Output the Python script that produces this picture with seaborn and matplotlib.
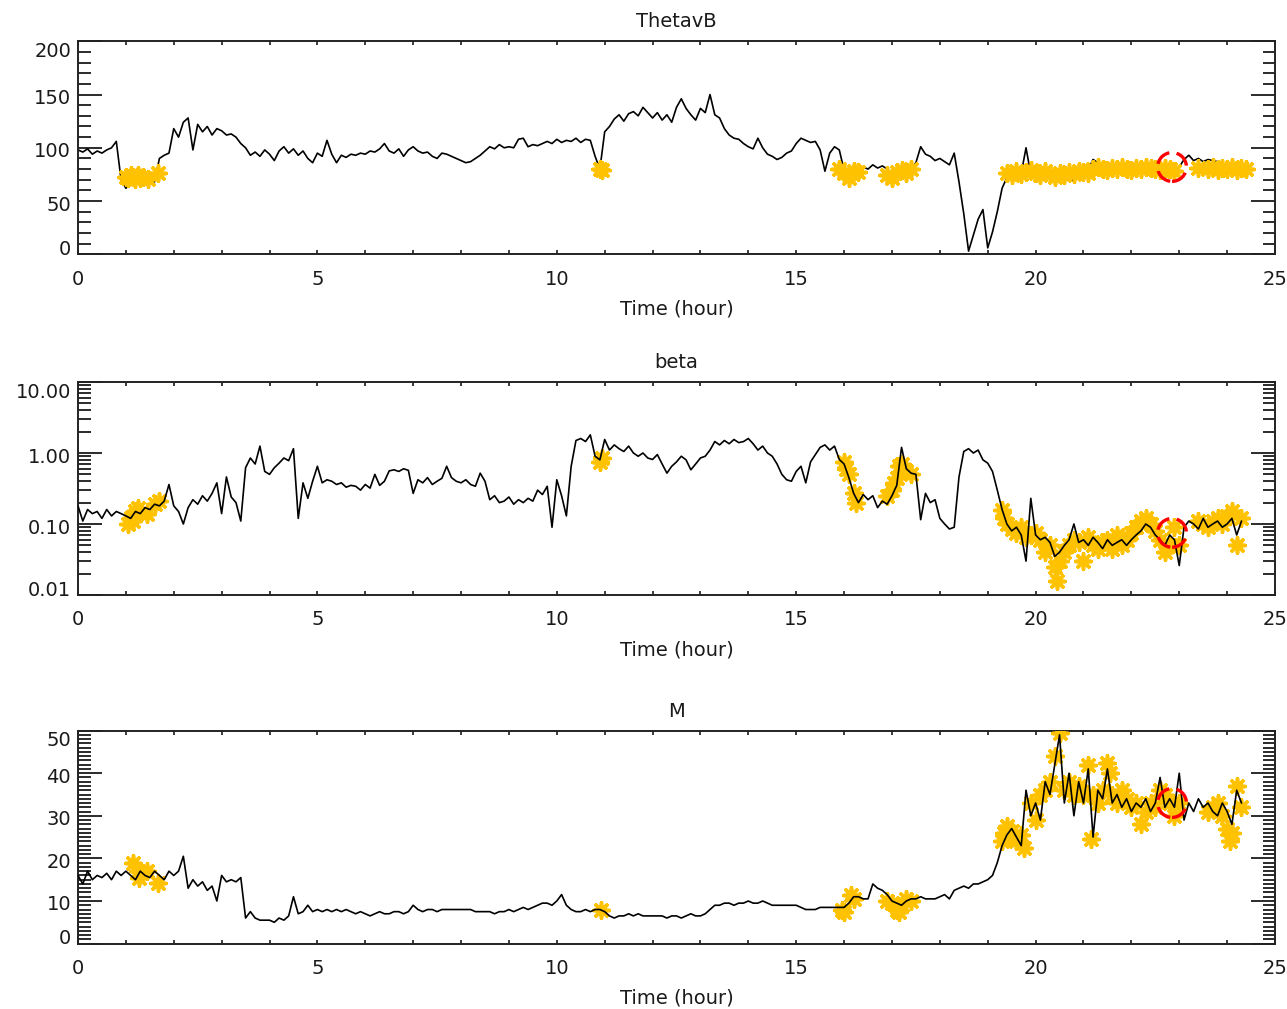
import numpy as np
import pandas as pd
import matplotlib
matplotlib.use("Agg")
import matplotlib.pyplot as plt
import matplotlib.ticker as mticker
import matplotlib.transforms as mtransforms
import seaborn as sns

# ---------------- data ----------------
hours = np.round(np.arange(245) * 0.1, 1)  # sampling grid 0.0 .. 24.4 h

theta = [
    98, 96, 99, 94, 97, 95, 98, 100, 106, 70,
    62, 66, 70, 68, 71, 67, 68, 90, 93, 95,
    118, 110, 124, 128, 98, 122, 115, 120, 112, 118,
    116, 112, 113, 110, 104, 100, 93, 96, 92, 98,
    94, 88, 97, 101, 95, 99, 93, 97, 90, 86,
    95, 92, 107, 94, 86, 93, 91, 94, 93, 95,
    94, 97, 96, 99, 104, 97, 95, 99, 92, 98,
    101, 97, 95, 96, 92, 90, 95, 94, 92, 90,
    88, 86, 87, 90, 93, 97, 101, 99, 103, 100,
    101, 100, 108, 109, 101, 103, 102, 104, 106, 104,
    108, 105, 107, 106, 109, 105, 108, 107, 92, 80,
    115, 120, 127, 131, 125, 132, 134, 130, 138, 133,
    128, 133, 126, 131, 124, 138, 146, 137, 131, 126,
    137, 133, 150, 131, 128, 118, 112, 109, 108, 104,
    101, 99, 109, 100, 94, 92, 89, 91, 95, 97,
    104, 109, 107, 105, 106, 98, 78, 95, 101, 98,
    79, 75, 67, 80, 82, 80, 84, 81, 83, 80,
    72, 70, 75, 78, 80, 86, 101, 94, 92, 88,
    90, 87, 84, 95, 68, 38, 3, 18, 33, 42,
    6, 21, 40, 62, 72, 74, 70, 76, 100, 75,
    72, 76, 70, 74, 67, 73, 71, 75, 68, 74,
    76, 80, 89, 86, 82, 80, 79, 81, 80, 82,
    80, 81, 79, 82, 80, 81, 80, 82, 79, 81,
    82, 89, 93, 88, 90, 87, 89, 88, 87, np.nan,
    np.nan, np.nan, np.nan, np.nan, np.nan,
]

beta = [
    0.18, 0.11, 0.16, 0.14, 0.15, 0.12, 0.16, 0.13, 0.15, 0.14,
    0.13, 0.12, 0.15, 0.14, 0.17, 0.16, 0.19, 0.18, 0.21, 0.36,
    0.18, 0.15, 0.10, 0.17, 0.22, 0.19, 0.25, 0.21, 0.27, 0.38,
    0.14, 0.46, 0.24, 0.20, 0.11, 0.62, 0.85, 0.70, 1.25, 0.55,
    0.50, 0.62, 0.72, 0.85, 0.78, 1.15, 0.12, 0.38, 0.23, 0.40,
    0.65, 0.38, 0.42, 0.40, 0.36, 0.38, 0.33, 0.35, 0.34, 0.30,
    0.36, 0.32, 0.50, 0.35, 0.40, 0.56, 0.58, 0.55, 0.60, 0.57,
    0.27, 0.42, 0.38, 0.45, 0.36, 0.40, 0.44, 0.65, 0.45, 0.40,
    0.38, 0.42, 0.36, 0.34, 0.52, 0.40, 0.22, 0.25, 0.20, 0.21,
    0.24, 0.19, 0.22, 0.20, 0.23, 0.21, 0.30, 0.26, 0.34, 0.09,
    0.42, 0.25, 0.13, 0.65, 1.50, 1.60, 1.45, 1.80, 0.90, 0.80,
    1.55, 1.10, 1.30, 1.15, 1.05, 1.25, 1.00, 0.90, 1.00, 0.85,
    0.81, 0.95, 0.70, 0.52, 0.65, 0.75, 0.90, 0.80, 0.58, 0.70,
    0.85, 0.90, 1.10, 1.45, 1.30, 1.50, 1.35, 1.55, 1.40, 1.45,
    1.60, 1.35, 1.10, 1.25, 1.00, 0.90, 0.70, 0.50, 0.42, 0.40,
    0.55, 0.65, 0.38, 0.75, 0.95, 1.20, 1.30, 1.10, 1.25, 0.81,
    0.70, 0.45, 0.27, 0.20, 0.26, 0.22, 0.25, 0.17, 0.21, 0.19,
    0.25, 0.35, 1.20, 0.60, 0.52, 0.50, 0.115, 0.27, 0.20, 0.22,
    0.12, 0.10, 0.085, 0.09, 0.46, 1.05, 1.15, 1.00, 1.10, 0.80,
    0.72, 0.55, 0.30, 0.16, 0.10, 0.08, 0.09, 0.07, 0.03, 0.23,
    0.07, 0.06, 0.065, 0.055, 0.035, 0.04, 0.05, 0.06, 0.10, 0.055,
    0.06, 0.05, 0.065, 0.055, 0.045, 0.06, 0.05, 0.055, 0.06, 0.05,
    0.06, 0.07, 0.08, 0.10, 0.09, 0.07, 0.06, 0.05, 0.07, 0.06,
    0.026, 0.09, 0.11, 0.10, 0.085, 0.12, 0.09, 0.10, 0.11, 0.09,
    0.10, 0.12, 0.07, 0.11, np.nan,
]

mach = [
    16, 14, 17, 15, 16, 15.5, 16.5, 15, 17, 16,
    17, 16, 15, 17, 16, 15.5, 17, 16, 15, 17,
    16, 17, 20.5, 13, 15, 13.5, 14.5, 12.5, 13.5, 10,
    16, 14.5, 15, 14.5, 15.5, 6, 7.5, 6, 5.5, 5.5,
    5.5, 5, 6, 5.5, 6.5, 11, 7, 7.5, 9, 7.5,
    8, 7.5, 8, 7.5, 8, 7.5, 8, 7.5, 7, 7.5,
    7, 6.5, 7, 7.5, 7, 7, 7.5, 7.5, 7, 7.5,
    9, 8, 7.5, 8, 8, 7.5, 8, 8, 8, 8,
    8, 8, 8, 7.5, 7.5, 7.5, 7.5, 7, 7.5, 7.5,
    8, 7.5, 8, 8.5, 8, 8.5, 9, 9.5, 9.5, 9,
    10, 11.5, 9, 8, 7.5, 7.5, 8, 7.5, 8, 8,
    7.5, 6.5, 6, 6.5, 6.5, 7, 6.5, 7, 6.5, 6.5,
    6.5, 6.5, 6.5, 6, 6.5, 6.5, 6, 6.5, 7, 6.5,
    6.5, 7, 8, 9, 9, 9.5, 9.5, 9, 9.5, 9.5,
    10, 9.5, 9.5, 10, 9.5, 9, 9, 9, 9, 9,
    9, 8.5, 8, 8, 8, 8.5, 8.5, 8.5, 8.5, 8.5,
    8.5, 9.5, 11, 11, 10.5, 10.5, 14, 13, 12.5, 11.5,
    10, 9.5, 9, 10, 10.5, 10.5, 11, 10.5, 10.5, 10.5,
    11, 11.5, 10.5, 12.5, 13, 13.5, 13, 14, 14, 14.5,
    15, 16, 19, 23, 25.5, 27, 25, 23, 36, 30,
    33, 29, 38, 35, 42, 49, 33, 40, 30, 38,
    33, 41, 25, 36, 34, 41, 33, 35, 32, 34,
    31, 33, 32, 34, 31, 33, 39, 32, 34, 32,
    40, 29, 33, 31, 34, 32, 33, 31, 30, 33,
    31, 28, 36, 33, np.nan,
]

# selected (highlighted) samples
theta_sel_t = [1.0, 1.05, 1.1, 1.15, 1.2, 1.25, 1.3, 1.35, 1.47, 1.68,
               10.9, 10.95,
               15.9, 16.0, 16.1, 16.2, 16.3,
               16.9, 17.0, 17.1, 17.2, 17.3, 17.4,
               19.4, 19.5, 19.6, 19.7, 19.8, 19.9, 20.0, 20.1, 20.2, 20.3,
               20.4, 20.5, 20.6, 20.7, 20.8, 20.9, 21.0, 21.1, 21.2, 21.3,
               21.4, 21.5, 21.6, 21.7, 21.8, 21.9, 22.0, 22.1, 22.2, 22.3,
               22.4, 22.5, 22.6, 22.7, 22.8, 22.9,
               23.4, 23.6, 23.7, 23.8, 23.9, 24.0, 24.1, 24.2, 24.3, 24.4]
theta_sel_v = [73, 72, 74, 73, 71, 74, 72, 73, 71, 76,
               80, 79,
               80, 76, 72, 78, 77,
               74, 72, 77, 79, 76, 80,
               76, 74, 78, 75, 77, 79, 76, 74, 78, 75,
               73, 76, 74, 77, 75, 78, 77, 76, 80, 82,
               80, 79, 81, 80, 82, 80, 79, 81, 80, 82,
               81, 80, 79, 81, 80, 78,
               81, 80, 82, 79, 81, 80, 82, 79, 81, 80]

beta_sel_t = [1.05, 1.1, 1.15, 1.2, 1.25, 1.45, 1.6, 1.7,
              10.9, 10.95,
              16.0, 16.05, 16.1, 16.2, 16.25,
              16.9, 17.0, 17.05, 17.1, 17.15, 17.2, 17.3, 17.4,
              19.3, 19.35, 19.4, 19.5, 19.6, 19.7, 19.8, 19.9, 20.0, 20.1,
              20.2, 20.3, 20.4, 20.45, 20.5, 20.6, 20.7, 20.8, 20.9, 21.0,
              21.1, 21.2, 21.3, 21.4, 21.5, 21.6, 21.7, 21.8, 21.9, 22.0,
              22.1, 22.2, 22.3, 22.4, 22.5, 22.6, 22.7, 22.8, 22.9, 23.0,
              23.4, 23.5, 23.6, 23.7, 23.8, 23.9, 24.0, 24.1, 24.2, 24.3]
beta_sel_v = [0.10, 0.12, 0.11, 0.15, 0.17, 0.14, 0.19, 0.21,
              0.75, 0.85,
              0.75, 0.60, 0.50, 0.27, 0.20,
              0.25, 0.30, 0.38, 0.45, 0.65, 0.70, 0.55, 0.50,
              0.16, 0.12, 0.10, 0.085, 0.075, 0.09, 0.065, 0.07, 0.075, 0.06,
              0.04, 0.05, 0.025, 0.016, 0.03, 0.04, 0.05, 0.06, 0.055, 0.03,
              0.065, 0.05, 0.045, 0.055, 0.06, 0.045, 0.07, 0.05, 0.06, 0.075,
              0.09, 0.11, 0.12, 0.10, 0.08, 0.06, 0.04, 0.05, 0.09, 0.05,
              0.11, 0.10, 0.09, 0.11, 0.12, 0.10, 0.13, 0.15, 0.05, 0.12]

mach_sel_t = [1.15, 1.25, 1.27, 1.45, 1.67,
              10.93,
              15.95, 16.0, 16.15, 16.2,
              16.9, 17.0, 17.1, 17.15, 17.2, 17.3, 17.4,
              19.3, 19.35, 19.4, 19.45, 19.5, 19.6, 19.7, 19.75,
              19.9, 20.0, 20.1, 20.2, 20.3, 20.4, 20.5, 20.6, 20.7, 20.8,
              20.9, 21.0, 21.1, 21.15, 21.2, 21.3, 21.4, 21.5, 21.55, 21.6,
              21.7, 21.8, 21.9, 22.0, 22.1, 22.2, 22.3, 22.4, 22.5, 22.6,
              22.7, 22.8, 22.9, 23.0, 23.6, 23.7, 23.8, 23.9, 24.0, 24.05,
              24.1, 24.2, 24.3]
mach_sel_v = [19, 17, 15.5, 17, 14.2,
              8,
              8, 7.5, 11.4, 10.5,
              10, 9.5, 8, 7.5, 9, 10.5, 10,
              24, 26, 27.5, 25, 26.5, 24, 25.5, 22.5,
              33, 29, 35, 36, 38, 44, 49.5, 36, 38, 35,
              37, 35, 42, 24.5, 35, 33, 36, 42.5, 40, 35,
              33, 36, 34, 32, 33, 28, 31, 33, 32, 36,
              35, 33, 30, 33, 31, 32, 33, 30, 27, 24,
              26, 37, 32]

event_t = 22.85
event_theta = 82
event_beta = 0.075
event_mach = 33

titles = ["ThetavB", "beta", "M"]
xlabel_text = "Time (hour)"

# ---------------- style ----------------
sns.set_style("ticks")
plt.rcParams["font.family"] = ["DejaVu Sans"]
plt.rcParams["text.color"] = "#1a1a1a"
plt.rcParams["axes.labelcolor"] = "#1a1a1a"
plt.rcParams["xtick.color"] = "#1a1a1a"
plt.rcParams["ytick.color"] = "#1a1a1a"

GOLD = "#FFC200"
FS = 14

fig = plt.figure(figsize=(12.87, 10.09), dpi=100)
left = 78 / 1287
width = (1275 - 78) / 1287
height = 213 / 1009
bottoms = [1 - 254.3 / 1009, 1 - 595.0 / 1009, 1 - 943.6 / 1009]
axes = [fig.add_axes([left, b, width, height]) for b in bottoms]

series = [theta, beta, mach]
sel = [(theta_sel_t, theta_sel_v), (beta_sel_t, beta_sel_v), (mach_sel_t, mach_sel_v)]
events = [event_theta, event_beta, event_mach]
line_z = [2, 4, 4]   # black trace over the highlight in the lower panels

for i, ax in enumerate(axes):
    df = pd.DataFrame({"t": hours, "v": series[i]})
    sns.lineplot(data=df, x="t", y="v", ax=ax, color="black", lw=1.2,
                 estimator=None, sort=False, zorder=line_z[i])
    ds = pd.DataFrame({"t": sel[i][0], "v": sel[i][1]})
    sns.scatterplot(data=ds, x="t", y="v", ax=ax, marker=(8, 2, 0), s=120,
                    color=GOLD, edgecolor=GOLD, linewidth=2.6, zorder=3)
    ax.scatter([event_t], [events[i]], s=430, facecolors="none",
               edgecolors="#ff0000", linewidths=2.4, linestyles=(0, (5.0, 2.2)),
               zorder=5)

    ax.set_xlim(0, 25)
    ax.xaxis.set_major_locator(mticker.MultipleLocator(5))
    ax.xaxis.set_minor_locator(mticker.MultipleLocator(1))
    ax.xaxis.set_major_formatter(mticker.FormatStrFormatter("%d"))
    ax.tick_params(axis="x", which="both", direction="in", top=True, bottom=True,
                   length=3, width=1.2, labelsize=FS, pad=11)
    ax.tick_params(axis="y", which="major", direction="in", left=True, right=True,
                   length=17, width=1.3, labelsize=FS, pad=5)
    ax.tick_params(axis="y", which="minor", direction="in", left=True, right=True,
                   length=9, width=1.3)
    ax.set_xlabel(xlabel_text, fontsize=FS, labelpad=8)
    ax.set_ylabel("")
    ax.set_title(titles[i], fontsize=FS, pad=10)
    for sp in ax.spines.values():
        sp.set_linewidth(1.4)
        sp.set_color("#222222")

# panel specifics
axes[0].set_ylim(0, 200)
axes[0].yaxis.set_major_locator(mticker.FixedLocator([0, 50, 100, 150, 200]))
axes[0].yaxis.set_minor_locator(mticker.MultipleLocator(10))
axes[0].yaxis.set_major_formatter(mticker.FormatStrFormatter("%d"))

axes[1].set_yscale("log")
axes[1].set_ylim(0.01, 10)
axes[1].yaxis.set_major_locator(mticker.FixedLocator([0.01, 0.1, 1, 10]))
axes[1].yaxis.set_major_formatter(mticker.FixedFormatter(["0.01", "0.10", "1.00", "10.00"]))
axes[1].yaxis.set_minor_locator(mticker.LogLocator(base=10, subs=np.arange(2, 10)))
axes[1].yaxis.set_minor_formatter(mticker.NullFormatter())

axes[2].set_ylim(0, 50)
axes[2].yaxis.set_major_locator(mticker.FixedLocator([0, 10, 20, 30, 40, 50]))
axes[2].yaxis.set_minor_locator(mticker.MultipleLocator(1))
axes[2].yaxis.set_major_formatter(mticker.FormatStrFormatter("%d"))

# end labels sit inside the frame, as in the original
for ax in axes:
    ticks = ax.yaxis.get_major_ticks()
    for j, tk in enumerate(ticks):
        dy = -2
        if j == 0:
            dy = 7
        elif j == len(ticks) - 1:
            dy = -8
        off = mtransforms.ScaledTranslation(0, dy / 100, fig.dpi_scale_trans)
        tk.label1.set_transform(tk.label1.get_transform() + off)

fig.savefig("out.png", dpi=100)
